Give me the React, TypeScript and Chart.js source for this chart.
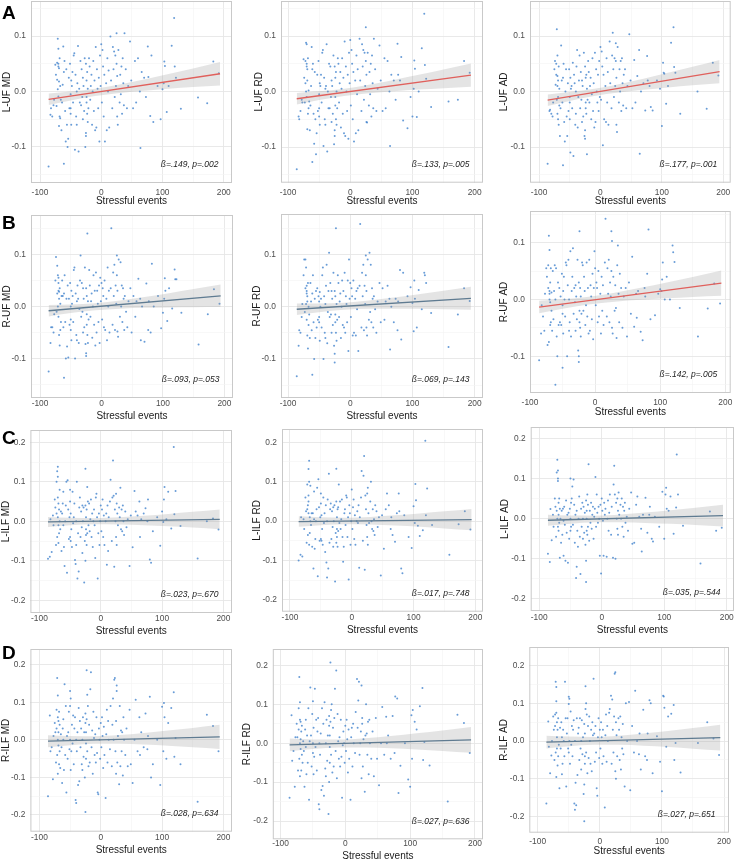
import React, { useEffect, useRef } from "react";
import { Chart, registerables } from "chart.js";
Chart.register(...registerables);

const FONT = '"Liberation Sans", Arial, Helvetica, sans-serif';

// Stressful events (shared by all panels)
const X_EVENTS = [
  -86, -83, -82, -80, -78, -77,
  -75, -74, -73, -72, -72, -71, -71, -70, -70, -70, -70, -69, -69, -69, -68, -68, -67, -67, -66, -65,
  -64, -63, -62, -61, -61, -60, -59, -58, -57, -56, -55,
  -54, -53, -52, -51, -50, -50, -50, -49, -49, -48, -47, -46, -45,
  -44, -43, -42, -41, -40, -40, -39, -38, -37, -36, -35,
  -34, -33, -32, -31, -30, -30, -29, -28, -27, -26,
  -25, -25, -25, -24, -24, -24, -23, -23, -22, -22, -21, -20,
  -19, -18, -17, -16, -15, -14, -13, -12, -11, -10,
  -9, -8, -7, -6, -5, -4, -3, -2, -1, 0,
  1, 2, 3, 4, 5, 6, 8, 9, 10, 11, 12, 13, 15,
  16, 18, 19, 20, 21, 22, 23, 24, 25, 25, 26, 26, 27, 28, 30,
  31, 32, 33, 34, 35, 36, 37, 38, 40, 42, 44,
  47, 49, 52, 55, 57, 60, 63, 64, 66, 70,
  73, 76, 77, 80, 82, 85, 92, 97,
  100, 102, 103, 104, 107, 110, 115, 119, 120, 122, 130, 158, 173, 183, 192,
];

const Y_LUF_MD = [
  -0.135, -0.042, -0.03, -0.045, -0.025, -0.015,
  0.048, 0.03, -0.026, 0.052, 0.021, 0.095, 0.004, 0.077, 0.05, 0.045, -0.009, 0.042, 0.018, -0.062, -0.045, 0.06, -0.048, 0.01, -0.015, -0.07,
  -0.02, 0.012, 0.081, -0.13, 0.035, 0.055, -0.035, -0.09, 0.04, -0.06, -0.1,
  -0.085, 0.025, -0.03, 0.05, -0.03, -0.005, -0.04, 0.02, -0.06, 0.01, 0.035, -0.02, 0.065,
  0.069, -0.105, 0.03, -0.045, 0.0, -0.06, 0.015, 0.082, -0.108, 0.005, -0.02,
  0.055, -0.025, 0.04, -0.01, 0.025, -0.05, 0.01, -0.035, 0.06, -0.1,
  -0.08, -0.075, 0.05, -0.01, -0.02, 0.02, -0.04, 0.035, -0.055, 0.005, -0.03, 0.06,
  0.045, -0.015, 0.01, 0.03, -0.06, 0.0, 0.055, -0.035, 0.02, -0.07,
  0.08, -0.065, 0.04, 0.005, -0.03, 0.025, -0.09, 0.065, 0.01, 0.085,
  -0.02, 0.075, 0.045, -0.045, 0.03, -0.09, 0.015, -0.07, 0.06, 0.0, 0.038, -0.065, 0.099,
  0.02, -0.03, 0.08, 0.04, 0.072, -0.01, 0.065, 0.01, 0.105, 0.05, -0.045, 0.028, -0.06, 0.075, -0.02,
  0.03, -0.005, 0.045, -0.04, 0.06, 0.015, -0.025, 0.105, 0.04, -0.03, 0.01,
  0.09, 0.02, -0.03, 0.055, -0.02, 0.06, 0.0, -0.102, 0.035, 0.025,
  -0.01, 0.081, 0.026, -0.044, 0.065, -0.055, 0.01, -0.05,
  0.004, 0.015, 0.054, 0.046, -0.037, 0.01, 0.0825, 0.1325, 0.045, 0.025, -0.031, -0.011, -0.021, 0.054, 0.033,
];

const Y_LUF_RD = [
  -0.14, -0.045, -0.05, -0.035, -0.015, -0.02,
  0.058, 0.025, -0.02, 0.055, 0.015, 0.088, 0.0, 0.085, 0.05, 0.045, -0.01, 0.04, 0.02, -0.068, -0.04, 0.06, -0.03, 0.002, -0.018, -0.07,
  -0.025, 0.01, 0.08, -0.127, 0.04, 0.05, -0.04, -0.094, 0.035, -0.05, -0.113,
  -0.075, 0.03, -0.035, 0.055, -0.03, -0.005, -0.045, 0.015, -0.06, 0.01, 0.03, -0.02, 0.07,
  0.075, -0.098, 0.025, -0.05, 0.005, -0.06, 0.01, 0.085, -0.108, 0.0, -0.03,
  0.05, -0.03, 0.045, -0.01, 0.02, -0.055, 0.01, -0.04, 0.065, -0.095,
  -0.08, -0.07, 0.045, -0.01, -0.025, 0.025, -0.05, 0.035, -0.06, 0.0, -0.03, 0.06,
  0.05, -0.02, 0.015, 0.035, -0.065, 0.005, 0.06, -0.04, 0.025, -0.075,
  0.09, -0.08, 0.045, 0.0, -0.035, 0.03, -0.085, 0.07, 0.015, 0.093,
  -0.025, 0.075, 0.05, -0.05, 0.035, -0.09, 0.02, -0.075, 0.065, -0.005, 0.04, -0.07, 0.095,
  0.02, -0.035, 0.085, 0.045, 0.075, -0.015, 0.07, 0.01, 0.116, 0.055, -0.055, 0.03, -0.056, 0.07, -0.025,
  0.035, -0.005, 0.05, -0.045, 0.065, 0.015, -0.03, 0.095, 0.04, -0.035, 0.005,
  0.083, 0.02, -0.035, 0.06, -0.03, 0.055, 0.0, -0.098, 0.03, 0.02,
  -0.015, 0.086, 0.03, 0.02, 0.062, -0.052, -0.066, -0.01,
  -0.045, 0.005, 0.056, 0.041, -0.046, 0.0, 0.078, 0.14, 0.048, 0.023, -0.028, -0.018, -0.015, 0.055, 0.034,
];

const Y_LUF_AD = [
  -0.13, -0.035, -0.033, -0.04, -0.045, -0.02,
  0.04, 0.055, 0.012, 0.05, 0.03, 0.112, -0.015, 0.065, 0.028, 0.01, -0.04, -0.01, 0.02, -0.05, -0.06, 0.045, -0.025, 0.005, -0.08, -0.03,
  0.083, 0.02, -0.02, -0.133, 0.025, 0.05, -0.055, -0.09, 0.0, 0.04, -0.045,
  -0.08, 0.015, -0.035, 0.04, -0.02, -0.01, -0.05, 0.025, -0.11, 0.005, 0.01, -0.03, 0.052,
  -0.116, 0.03, 0.015, -0.06, 0.0, -0.04, 0.045, 0.075, -0.065, -0.01, 0.02,
  0.065, -0.03, 0.035, -0.015, 0.02, -0.055, 0.01, -0.045, 0.07, -0.08,
  -0.085, -0.07, 0.045, -0.02, -0.03, 0.025, -0.04, 0.03, -0.113, 0.005, -0.015, 0.055,
  0.035, -0.02, 0.01, 0.025, -0.05, -0.005, 0.06, -0.035, 0.015, -0.065,
  0.07, -0.055, 0.04, 0.0, -0.02, 0.03, -0.035, 0.055, -0.01, 0.08,
  -0.015, 0.072, 0.045, -0.097, 0.03, -0.05, 0.01, -0.055, 0.06, -0.02, 0.035, -0.06, 0.09,
  0.015, -0.03, 0.065, 0.106, 0.04, -0.01, 0.06, 0.01, 0.087, 0.055, -0.06, 0.025, -0.073, 0.08, -0.02,
  0.04, 0.0, 0.055, -0.035, 0.06, 0.015, -0.025, 0.03, 0.04, -0.03, 0.01,
  0.103, 0.02, -0.03, 0.057, -0.02, 0.028, 0.075, -0.112, 0.0, 0.015,
  -0.034, 0.064, 0.02, 0.01, -0.028, -0.034, 0.02, 0.005,
  -0.062, 0.052, 0.034, 0.032, -0.022, 0.01, 0.088, 0.116, 0.044, 0.034, -0.04, 0.0, -0.031, 0.052, 0.029,
];

const Y_RUF_MD = [
  -0.125, -0.07, -0.04, -0.04, -0.05, -0.015,
  0.05, 0.095, -0.01, 0.078, 0.025, 0.06, 0.0, 0.045, 0.03, 0.055, -0.02, 0.028, 0.015, -0.055, -0.075, 0.035, -0.045, 0.005, -0.03, 0.02,
  0.05, 0.02, -0.04, -0.137, 0.025, 0.06, -0.03, -0.1, 0.015, -0.077, 0.04,
  -0.098, 0.015, -0.035, 0.045, -0.025, 0.0, -0.045, 0.03, -0.065, 0.005, 0.02, -0.03, 0.07,
  0.075, -0.1, 0.025, -0.055, 0.01, -0.065, 0.04, 0.015, -0.07, -0.005, 0.05,
  0.098, -0.02, 0.045, -0.01, 0.035, -0.05, 0.015, -0.04, 0.075, -0.072,
  -0.09, -0.095, 0.035, -0.015, -0.035, 0.02, -0.055, 0.14, -0.07, 0.01, -0.025, 0.07,
  0.04, -0.02, 0.01, 0.025, -0.06, 0.0, 0.06, -0.035, 0.03, -0.075,
  0.065, -0.05, 0.03, 0.005, -0.03, 0.04, -0.07, 0.055, 0.01, 0.045,
  -0.025, 0.035, 0.02, -0.04, 0.05, -0.045, 0.015, -0.065, 0.075, 0.0, 0.03, -0.05, 0.035,
  0.15, -0.035, 0.065, 0.02, 0.08, -0.045, 0.04, 0.005, 0.098, 0.06, -0.048, 0.03, -0.058, 0.09, -0.02,
  0.085, 0.0, 0.04, -0.03, 0.035, 0.015, -0.045, 0.02, -0.01, -0.04, 0.01,
  0.035, -0.05, 0.02, -0.02, 0.01, 0.053, 0.015, -0.065, 0.0, -0.068,
  0.044, -0.045, 0.01, -0.05, 0.082, 0.0, 0.02, -0.042,
  -0.012, 0.015, 0.054, 0.03, -0.028, 0.035, -0.004, 0.071, 0.052, 0.052, -0.012, -0.073, -0.015, 0.033, 0.005,
];

const Y_RUF_RD = [
  -0.133, -0.075, -0.045, -0.05, -0.02, 0.005,
  0.06, 0.09, -0.01, 0.09, 0.035, 0.075, 0.005, 0.04, 0.025, 0.03, -0.025, 0.02, 0.01, -0.055, -0.08, 0.045, -0.035, 0.0, -0.015, -0.06,
  0.045, 0.01, -0.045, -0.13, 0.025, 0.06, -0.03, -0.1, 0.015, -0.06, 0.03,
  -0.04, 0.035, -0.025, 0.02, -0.02, 0.01, -0.03, 0.028, -0.065, 0.0, 0.015, -0.04, 0.06,
  0.075, -0.1, 0.02, -0.05, 0.005, -0.06, 0.04, 0.08, -0.07, -0.01, 0.03,
  0.103, -0.02, 0.045, -0.015, 0.03, -0.05, 0.015, -0.035, 0.065, -0.075,
  -0.09, -0.107, 0.03, -0.015, -0.03, 0.02, -0.05, 0.15, -0.065, 0.005, -0.025, 0.06,
  0.045, -0.02, 0.01, 0.025, -0.06, 0.0, 0.05, -0.035, 0.03, -0.04,
  0.065, -0.05, 0.02, 0.005, -0.03, 0.05, -0.085, 0.09, 0.015, 0.045,
  -0.02, 0.035, 0.02, -0.055, 0.05, -0.05, 0.015, -0.055, 0.03, -0.005, 0.035, -0.085, 0.04,
  0.158, -0.04, 0.065, 0.02, 0.08, -0.045, 0.04, 0.005, 0.098, 0.06, -0.04, 0.03, -0.055, 0.09, -0.025,
  0.103, -0.01, 0.08, -0.03, 0.035, 0.015, -0.04, 0.02, -0.005, -0.05, 0.01,
  0.045, -0.03, 0.035, -0.025, 0.01, 0.04, 0.015, -0.082, 0.0, -0.03,
  0.015, -0.045, 0.01, 0.07, -0.063, 0.065, 0.02, 0.037,
  0.007, -0.047, 0.05, 0.015, -0.04, 0.032, -0.005, 0.065, 0.06, 0.045, -0.012, -0.077, -0.015, 0.035, 0.011,
];

const Y_RUF_AD = [
  -0.107, -0.06, -0.01, -0.03, -0.055, 0.01,
  0.055, 0.04, -0.08, 0.06, 0.02, 0.112, -0.075, 0.087, 0.015, 0.01, 0.0, 0.03, -0.005, -0.045, -0.04, 0.055, 0.012, -0.02, -0.055, 0.05,
  -0.035, 0.015, 0.06, -0.15, 0.0, 0.055, -0.065, -0.1, 0.03, -0.045, 0.02,
  -0.04, 0.005, -0.045, 0.045, -0.12, -0.01, -0.025, 0.015, -0.06, 0.04, 0.0, -0.03, 0.065,
  0.06, -0.1, 0.025, 0.07, -0.055, 0.0, -0.04, 0.085, -0.065, 0.015, 0.04,
  0.09, -0.025, 0.02, -0.005, 0.025, -0.055, 0.005, -0.035, 0.07, -0.09,
  -0.11, -0.1, 0.03, -0.02, -0.04, 0.12, -0.05, 0.02, -0.065, 0.005, -0.025, 0.065,
  0.06, -0.02, 0.04, 0.015, -0.045, -0.01, 0.065, -0.03, 0.02, -0.06,
  0.07, -0.055, 0.025, 0.005, -0.035, 0.045, -0.07, 0.02, 0.085, 0.055,
  -0.01, 0.03, 0.02, -0.04, 0.05, -0.03, 0.01, -0.06, 0.04, -0.02, 0.025, -0.045, 0.065,
  0.142, -0.03, 0.055, 0.01, 0.07, -0.04, 0.03, 0.005, 0.12, 0.05, -0.05, 0.103, -0.06, 0.04, -0.02,
  0.025, -0.015, -0.068, 0.06, 0.095, 0.01, -0.04, 0.045, 0.02, -0.05, 0.005,
  0.02, -0.065, 0.03, -0.025, 0.075, -0.048, 0.01, -0.032, 0.015, -0.057,
  -0.072, 0.02, 0.005, 0.045, 0.123, -0.035, -0.028, 0.01,
  0.018, 0.015, 0.035, 0.065, 0.0, 0.04, 0.0, 0.095, 0.083, 0.066, -0.015, -0.065, -0.016, 0.028, -0.007,
];

const Y_LILF_MD = [
  -0.095, -0.09, 0.005, -0.078, 0.015, -0.01,
  0.055, 0.035, -0.06, 0.1, 0.02, 0.127, -0.04, 0.138, 0.113, 0.01, 0.06, -0.01, 0.045, -0.055, 0.03, -0.03, 0.0, 0.08, -0.02, 0.025,
  -0.075, 0.02, 0.045, -0.01, 0.075, -0.065, -0.113, 0.0, 0.04, 0.1, -0.13,
  0.104, 0.03, -0.045, 0.01, -0.04, 0.08, 0.05, -0.05, 0.02, -0.02, -0.065, 0.075, -0.005,
  0.01, 0.045, -0.098, -0.108, 0.0, -0.06, 0.1, -0.145, -0.03, -0.127, 0.035,
  0.06, -0.04, 0.025, -0.015, 0.04, -0.08, 0.0, 0.035, -0.155, -0.05,
  -0.1, 0.133, 0.04, -0.02, -0.035, 0.01, -0.06, 0.03, 0.087, -0.03, 0.05, -0.01,
  0.045, -0.025, 0.005, 0.055, -0.04, 0.02, -0.065, 0.0, 0.03, -0.01,
  -0.093, 0.06, 0.07, 0.01, -0.145, -0.03, 0.02, -0.06, 0.0, 0.04,
  -0.025, 0.03, 0.055, -0.04, 0.015, -0.06, 0.0, 0.02, -0.11, 0.04, -0.075, 0.01, 0.05,
  0.105, -0.05, 0.06, 0.154, 0.065, -0.115, 0.03, 0.0, 0.07, -0.04, 0.045, -0.06, 0.02, -0.01, 0.035,
  0.01, 0.085, -0.02, 0.03, -0.025, 0.04, 0.0, -0.035, 0.025, -0.015, 0.005,
  -0.113, 0.015, -0.066, 0.077, 0.025, 0.015, 0.05, -0.04, 0.005, 0.02,
  0.033, 0.0, 0.055, -0.097, -0.105, -0.025, 0.01, -0.062,
  0.025, -0.002, 0.055, 0.087, 0.005, 0.075, -0.018, 0.188, 0.018, 0.077, -0.012, -0.094, 0.0, 0.007, -0.021,
];

const Y_LILF_RD = [
  -0.1, -0.085, 0.01, -0.09, 0.005, -0.02,
  0.06, 0.025, -0.055, 0.093, 0.03, 0.04, -0.035, 0.065, 0.05, 0.02, 0.132, 0.153, 0.1, -0.06, 0.01, -0.03, 0.0, 0.09, -0.01, 0.02,
  -0.065, 0.02, -0.12, 0.005, 0.075, -0.07, -0.045, 0.0, 0.03, 0.085, -0.14,
  0.106, 0.035, -0.05, 0.01, -0.045, 0.07, 0.045, -0.05, 0.015, -0.02, -0.06, 0.06, -0.005,
  0.02, -0.078, 0.04, -0.105, 0.0, -0.143, 0.055, -0.12, 0.12, -0.055, 0.03,
  0.045, -0.045, 0.025, -0.015, 0.035, -0.065, 0.0, 0.04, -0.153, -0.03,
  -0.055, 0.133, 0.05, -0.02, -0.04, 0.01, -0.065, 0.03, 0.035, -0.025, 0.093, -0.005,
  0.05, -0.02, 0.005, 0.055, -0.04, -0.103, -0.065, 0.02, 0.03, -0.01,
  0.065, 0.06, -0.04, 0.01, -0.148, 0.04, 0.02, -0.06, 0.0, 0.08,
  -0.02, 0.035, 0.055, -0.045, 0.015, -0.06, 0.0, 0.025, -0.005, 0.04, -0.118, 0.01, 0.06,
  0.127, -0.05, 0.115, 0.165, -0.123, 0.065, 0.03, -0.01, 0.07, -0.04, 0.085, -0.06, 0.02, -0.005, 0.05,
  0.1, 0.0, -0.02, 0.03, -0.025, 0.005, -0.035, 0.04, 0.025, -0.015, 0.01,
  -0.138, 0.015, -0.07, 0.03, 0.07, 0.04, -0.02, 0.01, -0.035, -0.052,
  0.02, 0.07, 0.025, -0.12, -0.132, 0.015, -0.04, -0.068,
  0.038, -0.005, 0.094, 0.053, -0.012, -0.038, -0.023, 0.204, 0.015, 0.083, -0.01, -0.085, -0.008, 0.025, -0.021,
];

const Y_LILF_AD = [
  -0.088, -0.108, 0.024, -0.054, 0.01, -0.02,
  0.05, 0.03, -0.045, 0.115, 0.02, 0.147, 0.0, 0.12, 0.1, 0.094, -0.02, 0.04, 0.01, -0.03, 0.05, -0.01, 0.025, -0.098, 0.0, -0.06,
  0.02, -0.04, 0.025, -0.005, -0.093, 0.03, -0.015, -0.105, 0.045, -0.035, 0.01,
  -0.11, 0.015, -0.05, 0.025, 0.1, 0.0, -0.03, 0.04, -0.02, 0.05, 0.08, -0.015, 0.098,
  0.035, -0.06, 0.01, -0.148, -0.12, 0.02, -0.03, -0.07, 0.0, 0.055, -0.045,
  -0.138, 0.025, -0.02, 0.04, 0.0, -0.05, 0.03, -0.035, 0.015, -0.065,
  -0.158, -0.105, 0.045, 0.0, -0.03, 0.02, -0.04, 0.06, 0.035, -0.02, 0.136, -0.055,
  0.02, -0.01, 0.04, -0.025, 0.01, 0.03, -0.05, 0.005, 0.025, 0.104,
  -0.02, 0.06, 0.015, -0.01, 0.03, 0.0, -0.093, 0.035, -0.137, 0.05,
  0.02, -0.005, -0.093, 0.04, 0.01, 0.025, -0.095, 0.0, 0.045, -0.03, 0.015, 0.06, -0.04,
  0.03, -0.098, 0.085, 0.132, 0.06, -0.1, 0.04, 0.0, 0.05, -0.025, 0.02, -0.04, 0.065, 0.01, 0.035,
  0.0, 0.05, -0.02, 0.03, -0.045, 0.02, 0.04, -0.01, 0.005, -0.03, 0.025,
  0.065, -0.063, -0.06, 0.035, 0.055, 0.005, -0.025, -0.082, 0.01, 0.052,
  -0.035, 0.01, 0.03, -0.05, -0.057, 0.005, -0.02, 0.067,
  -0.05, 0.06, 0.077, 0.025, 0.02, 0.055, -0.038, 0.028, 0.16, 0.06, -0.018, -0.112, 0.018, -0.03, -0.023,
];

const Y_RILF_MD = [
  -0.15, 0.065, -0.03, -0.02, -0.105, 0.01,
  0.045, 0.02, -0.06, 0.08, 0.03, 0.165, -0.04, 0.118, 0.06, 0.0, -0.09, 0.05, 0.02, -0.015, -0.065, 0.075, -0.03, 0.04, -0.075, 0.015,
  -0.02, -0.115, 0.03, 0.0, 0.055, -0.08, 0.148, -0.04, 0.09, -0.14, 0.01,
  -0.05, 0.02, 0.075, -0.025, 0.13, 0.09, 0.0, -0.08, 0.11, -0.03, 0.04, -0.01, 0.065,
  -0.065, 0.03, 0.06, -0.16, -0.168, 0.0, -0.03, 0.02, -0.12, 0.085, -0.11,
  0.05, -0.02, 0.03, -0.065, 0.0, -0.08, 0.06, -0.045, 0.02, -0.1,
  -0.192, 0.07, 0.045, -0.05, 0.02, -0.01, 0.055, 0.185, -0.03, 0.12, 0.09, -0.07,
  0.04, -0.06, 0.135, 0.18, -0.02, 0.025, -0.09, 0.075, 0.005, -0.04,
  0.015, -0.06, 0.06, -0.035, -0.14, -0.145, 0.03, 0.0, -0.05, 0.045,
  -0.02, 0.06, 0.01, -0.075, 0.035, -0.04, -0.155, 0.015, 0.08, -0.06, 0.05, 0.0, -0.025,
  0.09, -0.07, 0.04, 0.11, 0.0, 0.16, 0.165, -0.03, 0.05, -0.09, 0.145, 0.13, -0.06, 0.01, -0.118,
  0.09, -0.07, 0.025, -0.03, 0.02, -0.095, 0.06, 0.0, -0.04, 0.03, -0.07,
  0.08, -0.065, -0.115, 0.0, 0.107, -0.03, 0.06, -0.04, 0.02, -0.02,
  0.07, -0.025, 0.01, 0.115, -0.1, -0.065, 0.0, -0.12,
  0.088, -0.03, 0.098, 0.06, -0.05, 0.045, 0.085, 0.127, -0.045, 0.005, -0.065, -0.165, 0.067, 0.037, -0.03,
];

const Y_RILF_RD = [
  -0.14, 0.072, -0.045, -0.02, -0.112, 0.015,
  0.05, 0.015, -0.07, 0.09, 0.035, 0.17, -0.04, 0.105, 0.06, 0.0, -0.085, 0.055, 0.01, -0.015, -0.07, 0.03, -0.03, 0.045, -0.05, 0.005,
  -0.02, -0.112, 0.035, -0.01, 0.06, -0.08, 0.02, -0.05, 0.09, -0.145, 0.005,
  0.143, 0.02, -0.06, 0.075, -0.025, 0.108, 0.0, -0.08, 0.04, -0.035, 0.14, -0.01, 0.06,
  -0.07, 0.03, 0.065, -0.157, -0.17, 0.0, -0.03, 0.025, -0.12, 0.09, -0.11,
  0.05, -0.135, 0.105, -0.065, 0.0, -0.085, 0.06, -0.045, 0.02, -0.182,
  -0.1, 0.07, 0.045, -0.05, 0.02, -0.01, 0.055, 0.207, -0.03, 0.085, 0.1, -0.075,
  0.04, -0.06, 0.065, 0.14, -0.02, 0.187, -0.09, 0.075, 0.005, -0.04,
  0.015, -0.06, 0.06, -0.035, -0.14, -0.005, 0.03, 0.0, -0.05, 0.045,
  -0.02, 0.06, 0.01, -0.075, 0.035, -0.04, -0.145, 0.015, 0.04, -0.06, 0.05, 0.0, -0.025,
  0.08, 0.165, 0.04, 0.11, 0.158, -0.03, 0.0, 0.03, 0.148, -0.09, 0.05, 0.065, -0.06, 0.01, -0.125,
  0.02, 0.1, 0.025, -0.03, 0.055, -0.08, 0.06, 0.0, -0.04, 0.03, -0.085,
  0.065, -0.04, -0.108, 0.0, 0.093, -0.03, 0.068, 0.0, 0.02, -0.04,
  0.07, -0.025, 0.12, 0.115, -0.128, -0.058, 0.0, -0.093,
  -0.112, 0.072, -0.04, 0.085, 0.055, 0.035, 0.095, 0.142, -0.043, 0.003, -0.057, -0.15, 0.073, 0.052, -0.025,
];

const Y_RILF_AD = [
  -0.165, 0.052, -0.015, -0.085, -0.038, 0.0,
  0.065, 0.03, -0.05, 0.07, 0.04, 0.157, -0.03, 0.143, 0.105, 0.075, -0.095, 0.05, 0.01, -0.02, -0.065, 0.03, -0.04, 0.06, -0.01, -0.125,
  0.035, -0.02, 0.05, -0.088, 0.01, -0.06, 0.03, 0.0, -0.04, 0.157, 0.06,
  -0.12, 0.02, 0.06, -0.02, 0.117, 0.098, -0.03, 0.0, 0.112, -0.06, 0.078, -0.01, 0.04,
  -0.04, 0.03, 0.055, -0.165, -0.182, 0.0, -0.11, -0.17, 0.06, -0.09, 0.02,
  0.035, -0.05, 0.06, -0.02, 0.0, -0.075, 0.055, -0.035, 0.01, -0.14,
  -0.212, -0.115, 0.045, -0.04, 0.02, -0.06, 0.085, 0.145, -0.03, 0.1, 0.07, -0.085,
  0.04, -0.045, 0.065, 0.0, -0.06, 0.03, -0.08, 0.05, 0.015, 0.165,
  0.02, -0.055, 0.04, -0.03, -0.125, -0.145, 0.01, 0.06, -0.045, 0.03,
  -0.02, 0.05, 0.01, -0.06, 0.03, -0.04, -0.176, 0.015, 0.07, -0.055, 0.04, 0.0, 0.075,
  0.085, 0.12, -0.06, 0.11, 0.03, -0.03, 0.065, 0.178, 0.182, -0.08, 0.05, -0.1, 0.015, -0.04, 0.06,
  0.03, -0.05, 0.065, -0.075, 0.01, -0.02, 0.045, -0.035, -0.12, 0.1, 0.0,
  0.103, -0.13, 0.04, -0.03, 0.133, 0.0, -0.035, 0.02, -0.075, 0.083,
  -0.04, -0.05, 0.02, 0.108, 0.1, -0.085, 0.013, -0.055,
  -0.133, 0.12, 0.118, 0.088, -0.015, 0.065, 0.072, 0.095, -0.05, -0.005, -0.083, -0.005, 0.05, 0.007, -0.037,
];

// regression fits (ends) and 95% CI bands
const FIT_X = [-86, 194];
const BAND_X = [-86, -50, -10, 30, 70, 110, 150, 194];

const FIT_LUF_MD = [-0.014, 0.032];
const LO_LUF_MD = [-0.0245, -0.0161, -0.008, -0.0025, 0.0015, 0.005, 0.008, 0.011];
const HI_LUF_MD = [-0.0035, -0.0001, 0.005, 0.0127, 0.0217, 0.0314, 0.0416, 0.053];

const FIT_LUF_RD = [-0.013, 0.0295];
const LO_LUF_RD = [-0.0235, -0.0155, -0.008, -0.003, 0.0006, 0.0036, 0.006, 0.0085];
const HI_LUF_RD = [-0.0025, 0.0005, 0.005, 0.0122, 0.0208, 0.03, 0.0396, 0.0505];

const FIT_LUF_AD = [-0.0157, 0.036];
const LO_LUF_AD = [-0.0262, -0.017, -0.0082, -0.0019, 0.003, 0.0073, 0.0111, 0.015];
const HI_LUF_AD = [-0.0052, -0.001, 0.0048, 0.0133, 0.0232, 0.0337, 0.0447, 0.057];

const FIT_RUF_MD = [-0.0083, 0.0204];
const LO_RUF_MD = [-0.0192, -0.0128, -0.0072, -0.0042, -0.0027, -0.0019, -0.0015, -0.0013];
const HI_RUF_MD = [0.0026, 0.0036, 0.0062, 0.0114, 0.0181, 0.0255, 0.0333, 0.0421];

const FIT_RUF_RD = [-0.005, 0.016];
const LO_RUF_RD = [-0.016, -0.0107, -0.0061, -0.0042, -0.0039, -0.0042, -0.0049, -0.006];
const HI_RUF_RD = [0.006, 0.0061, 0.0075, 0.0116, 0.0173, 0.0236, 0.0303, 0.038];

const FIT_RUF_AD = [-0.0135, 0.0287];
const LO_RUF_AD = [-0.0245, -0.0165, -0.0088, -0.0039, -0.0006, 0.0021, 0.0045, 0.0067];
const HI_RUF_AD = [-0.0025, 0.0003, 0.0048, 0.0119, 0.0206, 0.0299, 0.0397, 0.0507];

const FIT_LILF_MD = [-0.0017, 0.005];
const LO_LILF_MD = [-0.0142, -0.0103, -0.0077, -0.0079, -0.01, -0.0128, -0.016, -0.02];
const HI_LILF_MD = [0.0108, 0.0087, 0.0079, 0.0101, 0.014, 0.0188, 0.024, 0.03];

const FIT_LILF_RD = [-0.001, 0.004];
const LO_LILF_RD = [-0.0145, -0.0107, -0.008, -0.0086, -0.0112, -0.0145, -0.0184, -0.023];
const HI_LILF_RD = [0.0125, 0.0099, 0.0088, 0.0108, 0.0148, 0.0195, 0.0248, 0.031];

const FIT_LILF_AD = [-0.004, 0.0075];
const LO_LILF_AD = [-0.0175, -0.0128, -0.0093, -0.0089, -0.0106, -0.0129, -0.0159, -0.0195];
const HI_LILF_AD = [0.0095, 0.0078, 0.0075, 0.0105, 0.0154, 0.0211, 0.0273, 0.0345];

const FIT_RILF_MD = [-0.0036, 0.008];
const LO_RILF_MD = [-0.0196, -0.0143, -0.0104, -0.0103, -0.0125, -0.0157, -0.0194, -0.024];
const HI_RILF_MD = [0.0124, 0.0101, 0.0094, 0.0127, 0.0183, 0.0247, 0.0318, 0.04];

const FIT_RILF_RD = [-0.0043, 0.0085];
const LO_RILF_RD = [-0.0208, -0.0152, -0.011, -0.0109, -0.013, -0.0161, -0.0199, -0.0245];
const HI_RILF_RD = [0.0122, 0.0098, 0.0094, 0.0129, 0.0186, 0.0255, 0.0329, 0.0415];

const FIT_RILF_AD = [-0.0027, 0.0088];
const LO_RILF_AD = [-0.0197, -0.0141, -0.0101, -0.0101, -0.0126, -0.016, -0.0202, -0.0252];
const HI_RILF_AD = [0.0143, 0.0117, 0.0109, 0.0143, 0.02, 0.0268, 0.0342, 0.0428];

const X_MAJOR = [-100, 0, 100, 200];
const X_MINOR = [-50, 50, 150];
const Y_MAJOR_UF = [-0.1, 0, 0.1];
const Y_MAJOR_ILF = [-0.2, -0.1, 0, 0.1, 0.2];
const Y_MINOR = [-0.15, -0.05, 0.05, 0.15];

const X_TITLE = "Stressful events";

type Panel = {
  yTitle: string; ys: number[]; fit: number[]; lo: number[]; hi: number[];
  sig: boolean; stat: string; box: number[]; xr: number[]; yr: number[];
  yMajor: number[]; tickOff: number; titleOff: number; ytOff: number;
};

const PANELS: Panel[] = [
  { yTitle: "L-UF MD", ys: Y_LUF_MD, fit: FIT_LUF_MD, lo: LO_LUF_MD, hi: HI_LUF_MD, sig: true, stat: "ß=.149, p=.002",
    box: [30.7, 1, 232, 183], xr: [-114.7, 213.5], yr: [-0.1649, 0.1631], yMajor: Y_MAJOR_UF, tickOff: 10, titleOff: 18, ytOff: 24 },
  { yTitle: "L-UF RD", ys: Y_LUF_RD, fit: FIT_LUF_RD, lo: LO_LUF_RD, hi: HI_LUF_RD, sig: true, stat: "ß=.133, p=.005",
    box: [280.7, 1, 482.3, 182.7], xr: [-111.3, 213.4], yr: [-0.1643, 0.1631], yMajor: Y_MAJOR_UF, tickOff: 10, titleOff: 18.3, ytOff: 22 },
  { yTitle: "L-UF AD", ys: Y_LUF_AD, fit: FIT_LUF_AD, lo: LO_LUF_AD, hi: HI_LUF_AD, sig: true, stat: "ß=.177, p=.001",
    box: [530.3, 1, 730.7, 182.7], xr: [-114.7, 212.1], yr: [-0.1643, 0.1631], yMajor: Y_MAJOR_UF, tickOff: 10, titleOff: 18.3, ytOff: 26 },
  { yTitle: "R-UF MD", ys: Y_RUF_MD, fit: FIT_RUF_MD, lo: LO_RUF_MD, hi: HI_RUF_MD, sig: false, stat: "ß=.093, p=.053",
    box: [30.7, 215, 232.3, 397.7], xr: [-114.7, 214], yr: [-0.1758, 0.1756], yMajor: Y_MAJOR_UF, tickOff: 5.7, titleOff: 18, ytOff: 24 },
  { yTitle: "R-UF RD", ys: Y_RUF_RD, fit: FIT_RUF_RD, lo: LO_RUF_RD, hi: HI_RUF_RD, sig: false, stat: "ß=.069, p=.143",
    box: [280.7, 214, 482.3, 397.7], xr: [-111.3, 213.4], yr: [-0.1747, 0.1772], yMajor: Y_MAJOR_UF, tickOff: 5.7, titleOff: 18, ytOff: 24 },
  { yTitle: "R-UF AD", ys: Y_RUF_AD, fit: FIT_RUF_AD, lo: LO_RUF_AD, hi: HI_RUF_AD, sig: true, stat: "ß=.142, p=.005",
    box: [530, 210.7, 730.7, 392.7], xr: [-100, 208.3], yr: [-0.1646, 0.1556], yMajor: Y_MAJOR_UF, tickOff: 10, titleOff: 19, ytOff: 26 },
  { yTitle: "L-ILF MD", ys: Y_LILF_MD, fit: FIT_LILF_MD, lo: LO_LILF_MD, hi: HI_LILF_MD, sig: false, stat: "ß=.023, p=.670",
    box: [30.7, 430, 232.3, 612.7], xr: [-114.7, 214], yr: [-0.2322, 0.2312], yMajor: Y_MAJOR_ILF, tickOff: 5.6, titleOff: 18, ytOff: 24.4 },
  { yTitle: "L-ILF RD", ys: Y_LILF_RD, fit: FIT_LILF_RD, lo: LO_LILF_RD, hi: HI_LILF_RD, sig: false, stat: "ß=.017, p=.748",
    box: [282.3, 429, 483.7, 611.7], xr: [-112.9, 212.4], yr: [-0.2297, 0.2337], yMajor: Y_MAJOR_ILF, tickOff: 6, titleOff: 18.3, ytOff: 25 },
  { yTitle: "L-ILF AD", ys: Y_LILF_AD, fit: FIT_LILF_AD, lo: LO_LILF_AD, hi: HI_LILF_AD, sig: false, stat: "ß=.035, p=.544",
    box: [530.7, 426.7, 736, 611], xr: [-113.6, 211.6], yr: [-0.2307, 0.2289], yMajor: Y_MAJOR_ILF, tickOff: 6.7, titleOff: 19, ytOff: 25.7 },
  { yTitle: "R-ILF MD", ys: Y_RILF_MD, fit: FIT_RILF_MD, lo: LO_RILF_MD, hi: HI_RILF_MD, sig: false, stat: "ß=.028, p=.634",
    box: [30.7, 649.3, 232.3, 831.7], xr: [-114.7, 214], yr: [-0.2445, 0.2419], yMajor: Y_MAJOR_ILF, tickOff: 5.6, titleOff: 18.3, ytOff: 24.4 },
  { yTitle: "R-ILF RD", ys: Y_RILF_RD, fit: FIT_RILF_RD, lo: LO_RILF_RD, hi: HI_RILF_RD, sig: false, stat: "ß=.027, p=.636",
    box: [272.3, 649.3, 482.3, 840], xr: [-111.9, 212.4], yr: [-0.2469, 0.242], yMajor: Y_MAJOR_ILF, tickOff: 4.5, titleOff: 16.7, ytOff: 25.8 },
  { yTitle: "R-ILF AD", ys: Y_RILF_AD, fit: FIT_RILF_AD, lo: LO_RILF_AD, hi: HI_RILF_AD, sig: false, stat: "ß=.027, p=.651",
    box: [529.3, 647.3, 729.3, 832.7], xr: [-113.5, 208], yr: [-0.2424, 0.2487], yMajor: Y_MAJOR_ILF, tickOff: 9, titleOff: 18.3, ytOff: 25.3 },
];

const LETTERS = [
  { t: "A", top: 2.5 },
  { t: "B", top: 212.5 },
  { t: "C", top: 427.5 },
  { t: "D", top: 642.5 },
];

const RED = "#E0605C";
const SLATE = "#5F7B91";
const BAND = "rgba(150,150,150,0.26)";
const DOT = "rgba(62,128,204,0.78)";
const GRID_MAJOR = "#E6E6E6";
const GRID_MINOR = "#F3F3F3";
const BORDER = "#C9C9C9";

const near = (a: number, list: number[]) => list.some((v) => Math.abs(v - a) < 1e-9);

const PAD_TOP = 6;

function geom(p: Panel) {
  const [bl, bt, br, bb] = p.box;
  const yAxisW = p.ytOff + 6;
  const left = bl - yAxisW;
  const padRight = Math.min(8, 738 - br);
  const width = br + padRight - left;
  const xAxisH = p.titleOff + 6;
  const top = bt - PAD_TOP;
  const height = bb - bt + PAD_TOP + xAxisH;
  return { left, top, width, height, yAxisW, xAxisH, padRight };
}

function PanelChart({ p }: { p: Panel }) {
  const ref = useRef<HTMLCanvasElement | null>(null);
  const g = geom(p);
  useEffect(() => {
    if (!ref.current) return;
    const pts = X_EVENTS.map((x, i) => ({ x, y: p.ys[i] })).filter((d) => typeof d.y === "number");
    const overlay = {
      id: "overlay",
      afterDraw(chart: any) {
        const { ctx, chartArea: a } = chart;
        ctx.save();
        ctx.strokeStyle = BORDER;
        ctx.lineWidth = 1;
        ctx.strokeRect(a.left + 0.5, a.top + 0.5, a.right - a.left - 1, a.bottom - a.top - 1);
        ctx.fillStyle = "#222";
        ctx.font = `italic 8.5px ${FONT}`;
        ctx.textAlign = "right";
        ctx.textBaseline = "middle";
        ctx.fillText(p.stat, a.right - 13.5, a.bottom - 18);
        ctx.restore();
      },
    };
    const yTicks = [...p.yMajor, ...Y_MINOR].filter((v) => v >= p.yr[0] && v <= p.yr[1]).sort((a, b) => a - b);
    const xTicks = [...X_MAJOR, ...X_MINOR].filter((v) => v >= p.xr[0] && v <= p.xr[1]).sort((a, b) => a - b);
    const chart = new Chart(ref.current, {
      type: "scatter",
      data: {
        datasets: [
          {
            data: FIT_X.map((x, i) => ({ x, y: p.fit[i] })),
            showLine: true,
            borderColor: p.sig ? RED : SLATE,
            borderWidth: 1.3,
            pointRadius: 0,
            fill: false,
          },
          {
            data: BAND_X.map((x, i) => ({ x, y: p.hi[i] })),
            showLine: true,
            borderColor: "rgba(0,0,0,0)",
            borderWidth: 0,
            pointRadius: 0,
            backgroundColor: BAND,
            fill: "+1",
            tension: 0.4,
            cubicInterpolationMode: "monotone",
          },
          {
            data: BAND_X.map((x, i) => ({ x, y: p.lo[i] })),
            showLine: true,
            borderColor: "rgba(0,0,0,0)",
            borderWidth: 0,
            pointRadius: 0,
            fill: false,
            tension: 0.4,
            cubicInterpolationMode: "monotone",
          },
          {
            data: pts,
            pointRadius: 1.0,
            pointBackgroundColor: DOT,
            backgroundColor: DOT,
            borderWidth: 0,
            pointBorderWidth: 0,
          },
        ],
      } as any,
      options: {
        animation: false,
        responsive: false,
        maintainAspectRatio: false,
        events: [],
        layout: { padding: { left: 0, top: PAD_TOP, right: g.padRight, bottom: 0 } },
        plugins: { legend: { display: false }, tooltip: { enabled: false } },
        scales: {
          x: {
            type: "linear",
            min: p.xr[0],
            max: p.xr[1],
            afterBuildTicks: (ax: any) => {
              ax.ticks = xTicks.map((v) => ({ value: v }));
            },
            afterFit: (ax: any) => {
              ax.height = g.xAxisH;
              ax.paddingLeft = 0;
              ax.paddingRight = 0;
              ax.paddingTop = 0;
              ax.paddingBottom = 0;
            },
            ticks: {
              autoSkip: false,
              maxRotation: 0,
              minRotation: 0,
              padding: p.tickOff - 5,
              color: "#4D4D4D",
              font: { family: FONT, size: 8.4 },
              callback: (v: any) => (near(Number(v), X_MAJOR) ? String(Math.round(Number(v))) : ""),
            },
            grid: {
              drawTicks: false,
              color: (c: any) => (c.tick && near(c.tick.value, X_MAJOR) ? GRID_MAJOR : GRID_MINOR),
              lineWidth: (c: any) => (c.tick && near(c.tick.value, X_MAJOR) ? 0.9 : 0.6),
            },
            border: { display: false },
            title: { display: true, text: X_TITLE, color: "#1A1A1A", font: { family: FONT, size: 10 }, padding: 0 },
          },
          y: {
            type: "linear",
            min: p.yr[0],
            max: p.yr[1],
            afterBuildTicks: (ax: any) => {
              ax.ticks = yTicks.map((v) => ({ value: v }));
            },
            afterFit: (ax: any) => {
              ax.width = g.yAxisW;
              ax.paddingLeft = 0;
              ax.paddingRight = 0;
              ax.paddingTop = 0;
              ax.paddingBottom = 0;
            },
            ticks: {
              autoSkip: false,
              padding: 5,
              color: "#4D4D4D",
              font: { family: FONT, size: 8.4 },
              callback: (v: any) => (near(Number(v), p.yMajor) ? Number(v).toFixed(1) : ""),
            },
            grid: {
              drawTicks: false,
              color: (c: any) => (c.tick && near(c.tick.value, p.yMajor) ? GRID_MAJOR : GRID_MINOR),
              lineWidth: (c: any) => (c.tick && near(c.tick.value, p.yMajor) ? 0.9 : 0.6),
            },
            border: { display: false },
            title: { display: true, text: p.yTitle, color: "#1A1A1A", font: { family: FONT, size: 10 }, padding: 0 },
          },
        },
      } as any,
      plugins: [overlay],
    });
    return () => chart.destroy();
  }, []);
  return (
    <canvas
      ref={ref}
      width={Math.round(g.width)}
      height={Math.round(g.height)}
      style={{ position: "absolute", left: g.left, top: g.top, width: Math.round(g.width), height: Math.round(g.height) }}
    />
  );
}

export default function App() {
  return (
    <div style={{ position: "absolute", left: 0, top: 0, width: 738, height: 861, overflow: "hidden", background: "#fff" }}>
      {PANELS.map((p, i) => (
        <PanelChart key={i} p={p} />
      ))}
      {LETTERS.map((l) => (
        <div
          key={l.t}
          style={{ position: "absolute", left: 2, top: l.top, fontFamily: FONT, fontWeight: 700, fontSize: 19, lineHeight: 1, color: "#000" }}
        >
          {l.t}
        </div>
      ))}
    </div>
  );
}
